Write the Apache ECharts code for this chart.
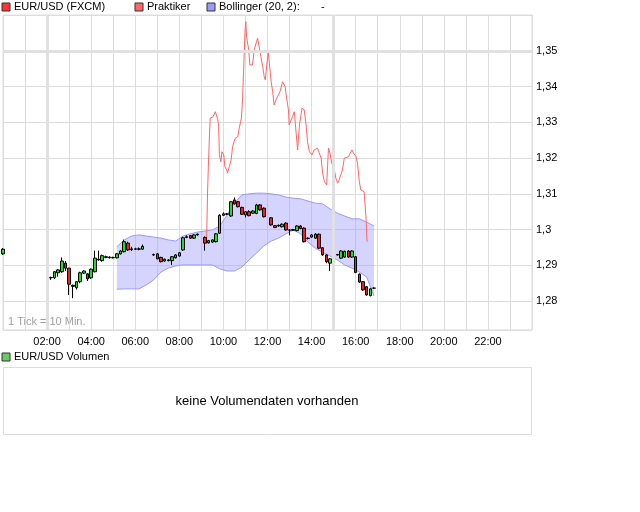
<!DOCTYPE html>
<html><head><meta charset="utf-8">
<script src="https://cdn.jsdelivr.net/npm/echarts@6/dist/echarts.min.js"></script>
<style>html,body{margin:0;padding:0;background:#fff}#c{width:640px;height:512px}</style>
</head><body><div id="c"></div>
<script>
// ---- EUR/USD (FXCM) 10-minute candles: time in minutes after 00:00 ----
const candleTimes = [0,130,140,150,160,170,180,190,200,210,220,230,240,250,260,270,280,290,300,310,320,330,340,350,360,370,380,
  410,420,430,440,450,460,470,480,490,500,510,520,530,
  550,560,570,580,590,600,610,620,630,640,650,660,670,680,690,700,710,
  730,740,750,760,770,780,790,800,810,820,830,840,850,860,870,880,890,900,910,920,930,940,950,960,970,980,990,1000,1010];
const candleOpen = [1.2932,1.2865,1.2865,1.2879,1.2882,1.2906,1.2892,1.2844,1.2837,1.2854,1.2878,1.2876,1.2865,1.2882,1.2915,1.2913,1.2922,1.2923,1.2921,1.2921,1.2932,1.2938,1.2962,1.2946,1.2945,1.2946,1.2945,
  1.2930,1.2932,1.2922,1.2912,1.2913,1.2913,1.2921,1.2926,1.2943,1.2978,1.2983,1.2976,1.2985,
  1.2978,1.2963,1.2965,1.2966,1.2990,1.3040,1.3043,1.3038,1.3083,1.3078,1.3062,1.3041,1.3050,1.3046,1.3045,1.3069,1.3060,
  1.3033,1.3011,1.3010,1.3008,1.3018,1.2999,1.2998,1.2997,1.3010,1.3004,1.2975,1.2979,1.2976,1.2987,1.2949,1.2929,1.2906,1.2920,1.2930,1.2920,1.2923,1.2940,1.2923,1.2924,1.2875,1.2854,1.2840,1.2815,1.2836];
const candleClose = [1.2945,1.2866,1.2882,1.2887,1.2912,1.2892,1.2847,1.2841,1.2854,1.2879,1.2884,1.2862,1.2889,1.2920,1.2917,1.2927,1.2924,1.2921,1.2922,1.2932,1.2940,1.2966,1.2943,1.2944,1.2946,1.2945,1.2953,
  1.2929,1.2918,1.2910,1.2917,1.2915,1.2924,1.2929,1.2935,1.2977,1.2980,1.2976,1.2985,1.2987,
  1.2962,1.2969,1.2971,1.2988,1.3040,1.3044,1.3044,1.3078,1.3072,1.3064,1.3043,1.3050,1.3039,1.3052,1.3069,1.3055,1.3036,
  1.3013,1.3006,1.3012,1.3015,1.2999,1.2998,1.3000,1.3010,1.3003,1.2966,1.2976,1.2985,1.2987,1.2948,1.2929,1.2910,1.2918,1.2934,1.2929,1.2940,1.2939,1.2923,1.2940,1.2880,1.2853,1.2831,1.2817,1.2834,1.2836];
const candleLow = [1.2929,1.2859,1.2862,1.2868,1.2879,1.2884,1.2817,1.2808,1.2832,1.2850,1.2876,1.2856,1.2862,1.2880,1.2913,1.2910,1.2920,1.2919,1.2919,1.2919,1.2930,1.2936,1.2940,1.2940,1.2943,1.2942,1.2944,
  1.2926,1.2917,1.2908,1.2910,1.2911,1.2901,1.2919,1.2924,1.2940,1.2976,1.2974,1.2974,1.2983,
  1.2941,1.2961,1.2963,1.2964,1.2988,1.3038,1.3041,1.3036,1.3070,1.3062,1.3041,1.3034,1.3037,1.3044,1.3043,1.3053,1.3034,
  1.3011,1.3004,1.3008,1.3006,1.2997,1.2984,1.2996,1.2995,1.3001,1.2964,1.2972,1.2977,1.2974,1.2946,1.2927,1.2906,1.2884,1.2918,1.2927,1.2918,1.2921,1.2921,1.2921,1.2878,1.2851,1.2829,1.2815,1.2813,1.2834];
const candleHigh = [1.2948,1.2868,1.2884,1.2889,1.2922,1.2912,1.2893,1.2846,1.2856,1.2882,1.2886,1.2878,1.2891,1.2941,1.2941,1.2930,1.2927,1.2925,1.2924,1.2934,1.2942,1.2972,1.2966,1.2952,1.2949,1.2950,1.2958,
  1.2933,1.2934,1.2924,1.2919,1.2917,1.2926,1.2931,1.2937,1.2980,1.2984,1.2985,1.2987,1.2989,
  1.2981,1.2971,1.2973,1.2990,1.3043,1.3048,1.3046,1.3080,1.3090,1.3080,1.3064,1.3052,1.3054,1.3054,1.3072,1.3071,1.3062,
  1.3035,1.3013,1.3014,1.3017,1.3020,1.3001,1.3002,1.3012,1.3012,1.3006,1.2978,1.2987,1.2990,1.2989,1.2951,1.2931,1.2920,1.2936,1.2932,1.2942,1.2941,1.2942,1.2942,1.2926,1.2877,1.2856,1.2842,1.2836,1.2838];

// ---- Bollinger (20, 2) ----
const bandTimes = [310,330,350,370,390,410,430,450,470,490,510,530,550,570,590,610,630,650,670,690,710,730,750,770,790,810,830,850,870,890,910,930,950,970,990,1010];
const bandUpper = [1.2952,1.2971,1.2982,1.2985,1.2982,1.2979,1.2976,1.2971,1.2968,1.2982,1.2988,1.2993,1.2996,1.2999,1.3010,1.3041,1.3074,1.3097,1.3100,1.3102,1.3102,1.3100,1.3097,1.3091,1.3088,1.3086,1.3080,1.3074,1.3072,1.3058,1.3046,1.3038,1.3030,1.3030,1.3021,1.3010];
const bandLower = [1.2833,1.2834,1.2834,1.2834,1.2845,1.2859,1.2881,1.2892,1.2898,1.2901,1.2901,1.2901,1.2901,1.2901,1.2890,1.2884,1.2884,1.2895,1.2915,1.2934,1.2954,1.2968,1.2976,1.2988,1.2999,1.2988,1.2965,1.2948,1.2937,1.2926,1.2915,1.2901,1.2892,1.2881,1.2867,1.2814];

// ---- Praktiker (comparison line, on the EUR/USD scale) ----
const praktTimes = [554,557,559,562,564,569,572,578,581,585,587,589,593,596,601,604,609,611,616,621,625,632,639,643,649,652,655,659,661,663,669,672,679,684,689,693,698,702,707,711,714,718,722,725,730,734,738,743,747,754,761,768,772,777,779,784,788,793,798,802,807,814,820,825,829,834,841,847,856,861,866,870,875,881,886,890,895,902,906,911,915,920,924,929,934,941,945,950,954,961,965,970,974,983,988,991];
const praktValues = [1.2962,1.3111,1.3176,1.3265,1.3312,1.3312,1.3316,1.3330,1.3335,1.3307,1.3288,1.3209,1.3190,1.3218,1.3209,1.3176,1.3167,1.3158,1.3176,1.3195,1.3232,1.3256,1.3260,1.3284,1.3312,1.3363,1.3447,1.3559,1.3582,1.3540,1.3503,1.3461,1.3461,1.3503,1.3522,1.3536,1.3508,1.3484,1.3456,1.3428,1.3419,1.3461,1.3498,1.3466,1.3414,1.3386,1.3349,1.3363,1.3368,1.3386,1.3414,1.3400,1.3368,1.3335,1.3293,1.3298,1.3316,1.3330,1.3270,1.3223,1.3293,1.3340,1.3335,1.3293,1.3246,1.3218,1.3209,1.3223,1.3228,1.3228,1.3200,1.3158,1.3134,1.3125,1.3228,1.3214,1.3186,1.3167,1.3144,1.3130,1.3139,1.3144,1.3167,1.3200,1.3204,1.3204,1.3214,1.3223,1.3214,1.3204,1.3186,1.3134,1.3111,1.3106,1.3036,1.2966];

// ---- axis labels ----
const xLabelHours = [2,4,6,8,10,12,14,16,18,20,22];
const yLabelValues = [1.28,1.29,1.30,1.31,1.32,1.33,1.34,1.35];

const FONT = 'Liberation Sans, Arial, sans-serif';
const chart = echarts.init(document.getElementById('c'), null, {renderer:'canvas'});

const candleData = candleTimes.map((t,i)=>[t,candleOpen[i],candleClose[i],candleLow[i],candleHigh[i]]);
const bandData = bandTimes.map((t,i)=>[t,bandUpper[i],bandLower[i]]);
const praktData = praktTimes.map((t,i)=>[t,praktValues[i]]);

function legendItem(x, y, color, label){
  return [
    {type:'rect', shape:{x:x, y:y-4, width:8, height:8}, style:{fill:color, stroke:'#333', lineWidth:1}},
    {type:'text', x:x+12, y:y, style:{text:label, font:'11px '+FONT, fill:'#000', verticalAlign:'middle'}}
  ];
}

chart.setOption({
  animation:false,
  backgroundColor:'#fff',
  grid:{left:3, top:15, width:529, height:315, show:true, borderColor:'#dcdcdc', borderWidth:1, backgroundColor:'transparent'},
  xAxis:{type:'value', min:0, max:1440, interval:60,
    axisLine:{show:false}, axisTick:{show:false},
    splitLine:{show:true, lineStyle:{color:'#dcdcdc', width:1}},
    axisLabel:{margin:6, color:'#000', fontSize:11, fontFamily:FONT,
      showMinLabel:false, showMaxLabel:false,
      formatter:function(v){ const h=v/60; if(xLabelHours.indexOf(h)<0) return ''; return (h<10?'0':'')+h+':00'; }}
  },
  yAxis:{type:'value', position:'right', min:1.27188, max:1.36008, splitNumber:9, scale:true,
    axisLine:{show:false}, axisTick:{show:true, length:3, lineStyle:{color:'#dcdcdc'}},
    splitLine:{show:true, lineStyle:{color:'#dcdcdc', width:1}},
    axisLabel:{margin:4, color:'#000', fontSize:11, fontFamily:FONT,
      formatter:function(v){ const r=Math.round(v*100)/100; if(Math.abs(v-r)>1e-6) return ''; let ok=false; yLabelValues.forEach(function(y){ if(Math.abs(y-r)<1e-6) ok=true; }); if(!ok) return ''; return String(r).replace('.',','); }}
  },
  series:[
    {type:'line', data:[], silent:true,
      markLine:{silent:true, symbol:'none', label:{show:false}, lineStyle:{color:'#e0e0e0', width:3, type:'solid'},
        data:[{yAxis:1.35},{xAxis:120},{xAxis:900}]}},
    {type:'custom', data:bandData, encode:{x:0, y:[1,2]}, silent:true, z:2,
      renderItem:function(params, api){
        if(params.dataIndex!==0) return null;
        const up = bandTimes.map((t,i)=>api.coord([t,bandUpper[i]]));
        const lo = bandTimes.map((t,i)=>api.coord([t,bandLower[i]]));
        return {type:'group', children:[
          {type:'polygon', shape:{points:up.concat(lo.slice().reverse())}, style:{fill:'rgba(153,153,255,0.42)', stroke:null}},
          {type:'polyline', shape:{points:up}, style:{stroke:'#9999ff', lineWidth:1, fill:null}},
          {type:'polyline', shape:{points:lo}, style:{stroke:'#9999ff', lineWidth:1, fill:null}}
        ]};
      }},
    {type:'line', name:'Praktiker', data:praktData, showSymbol:false, symbol:'none', z:3,
      lineStyle:{color:'#ff6666', width:1}},
    {type:'candlestick', name:'EUR/USD', data:candleData, encode:{x:0, y:[1,2,3,4]}, barWidth:3, clip:false, z:4,
      itemStyle:{color:'#22dd22', color0:'#ee2222', borderColor:'#000', borderColor0:'#000', borderWidth:1}}
  ],
  graphic:[].concat(
    legendItem(2,7,'#ff3333','EUR/USD (FXCM)'),
    legendItem(135,7,'#ff6666','Praktiker'),
    legendItem(207,7,'#9999ff','Bollinger (20, 2):'),
    [{type:'text', x:321, y:7, style:{text:'-', font:'11px '+FONT, fill:'#000', verticalAlign:'middle'}},
     {type:'text', x:8, y:322, style:{text:'1 Tick = 10 Min.', font:'11px '+FONT, fill:'#a0a0a0', verticalAlign:'middle'}}],
    legendItem(2,357,'#66cc66','EUR/USD Volumen'),
    [{type:'rect', shape:{x:3.5, y:367.5, width:528, height:67}, style:{fill:'#fff', stroke:'#dcdcdc', lineWidth:1}},
     {type:'text', x:267, y:401, style:{text:'keine Volumendaten vorhanden', font:'13px '+FONT, fill:'#000', align:'center', verticalAlign:'middle'}}]
  )
});
</script></body></html>
